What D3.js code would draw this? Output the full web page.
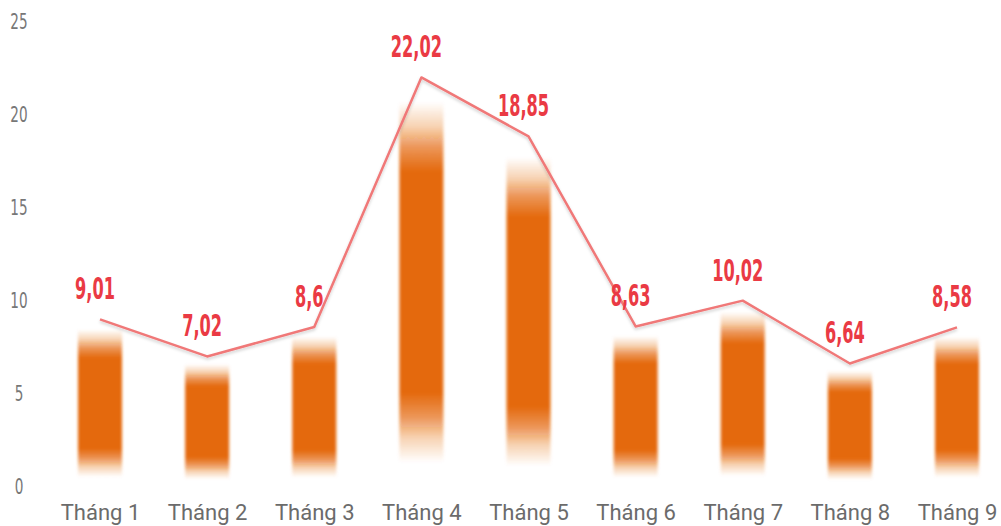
<!DOCTYPE html>
<html>
<head>
<meta charset="utf-8">
<script src="https://cdn.jsdelivr.net/npm/d3@7"></script>
<style>
  html, body { margin: 0; padding: 0; background: #fff; }
  svg { display: block; }
</style>
</head>
<body>
<div id="chart"></div>
<script>
// data
var months = ["Tháng 1", "Tháng 2", "Tháng 3", "Tháng 4", "Tháng 5", "Tháng 6", "Tháng 7", "Tháng 8", "Tháng 9"];
var values = [9.01, 7.02, 8.6, 22.02, 18.85, 8.63, 10.02, 6.64, 8.58];
var valueLabels = ["9,01", "7,02", "8,6", "22,02", "18,85", "8,63", "10,02", "6,64", "8,58"];
var yTicks = [0, 5, 10, 15, 20, 25];

var width = 1001, height = 526;
var barWidth = 44;
var narrow = "'DejaVu Sans Condensed', 'Liberation Sans', sans-serif";

var svg = d3.select("#chart").append("svg")
	.attr("width", width)
	.attr("height", height);

var x = d3.scalePoint()
	.domain(months)
	.range([100, 957]);

var y = d3.scaleLinear()
	.domain([0, 25])
	.range([487, 22]);

var defs = svg.append("defs");

// bars fade out at both ends
var grad = defs.append("linearGradient")
	.attr("id", "barFade")
	.attr("x1", 0).attr("y1", 0)
	.attr("x2", 0).attr("y2", 1);
[[0, 0], [0.06, 0], [0.12, 0.3], [0.17, 0.7], [0.23, 1], [0.77, 1], [0.83, 0.7], [0.88, 0.3], [0.94, 0], [1, 0]].forEach(function(s) {
	grad.append("stop")
		.attr("offset", s[0])
		.attr("stop-color", "#e4690c")
		.attr("stop-opacity", s[1]);
});

var soft = defs.append("filter").attr("id", "soft")
	.attr("x", "-20%").attr("y", "-5%").attr("width", "140%").attr("height", "110%");
soft.append("feGaussianBlur").attr("stdDeviation", 1.5);

var shadow = defs.append("filter").attr("id", "lineShadow")
	.attr("x", "-5%").attr("y", "-5%").attr("width", "110%").attr("height", "120%");
shadow.append("feDropShadow")
	.attr("dx", 0).attr("dy", 2)
	.attr("stdDeviation", 1.5)
	.attr("flood-color", "#000")
	.attr("flood-opacity", 0.18);

// Y axis labels (thin, condensed)
var yAxis = d3.axisLeft(y).tickValues(yTicks).tickSize(0).tickPadding(0);
var gy = svg.append("g")
	.attr("class", "yaxis")
	.attr("transform", "translate(19,0)")
	.call(yAxis);
gy.select(".domain").remove();
gy.selectAll(".tick text")
	.attr("text-anchor", "middle")
	.attr("x", 0)
	.attr("transform", "scale(0.72,1)")
	.style("font-family", narrow)
	.style("font-size", "21px")
	.style("font-weight", "300")
	.style("fill", "#777");

// X axis labels
var xAxis = d3.axisBottom(x).tickSize(0).tickPadding(0);
var gx = svg.append("g")
	.attr("class", "xaxis")
	.attr("transform", "translate(0,520)")
	.call(xAxis);
gx.select(".domain").remove();
gx.selectAll("text")
	.attr("y", 0)
	.attr("dy", 0)
	.style("font-family", "Roboto, 'Noto Sans', sans-serif")
	.style("font-size", "22px")
	.style("fill", "#6b6b6b");

// Bars
svg.append("g").attr("class", "bars")
	.selectAll("rect")
	.data(values)
	.enter().append("rect")
	.attr("x", function(d, i) { return x(months[i]) - barWidth / 2; })
	.attr("y", function(d) { return y(d); })
	.attr("width", barWidth)
	.attr("height", function(d) { return y(0) - y(d); })
	.attr("fill", "url(#barFade)")
	.attr("filter", "url(#soft)");

// Line
var line = d3.line()
	.x(function(d, i) { return x(months[i]); })
	.y(function(d) { return y(d); });

svg.append("path")
	.datum(values)
	.attr("d", line)
	.attr("fill", "none")
	.attr("stroke", "#f07878")
	.attr("stroke-width", 2.5)
	.attr("stroke-linejoin", "round")
	.attr("filter", "url(#lineShadow)");

// Value labels, squeezed horizontally
svg.append("g").attr("class", "labels")
	.selectAll("text")
	.data(values)
	.enter().append("text")
	.attr("transform", function(d, i) {
		return "translate(" + (x(months[i]) - 5) + "," + (y(d) - 20) + ") scale(0.6,1)";
	})
	.attr("text-anchor", "middle")
	.style("font-family", narrow)
	.style("font-weight", "bold")
	.style("font-size", "30px")
	.style("fill", "#ea3a44")
	.text(function(d, i) { return valueLabels[i]; });
</script>
</body>
</html>
